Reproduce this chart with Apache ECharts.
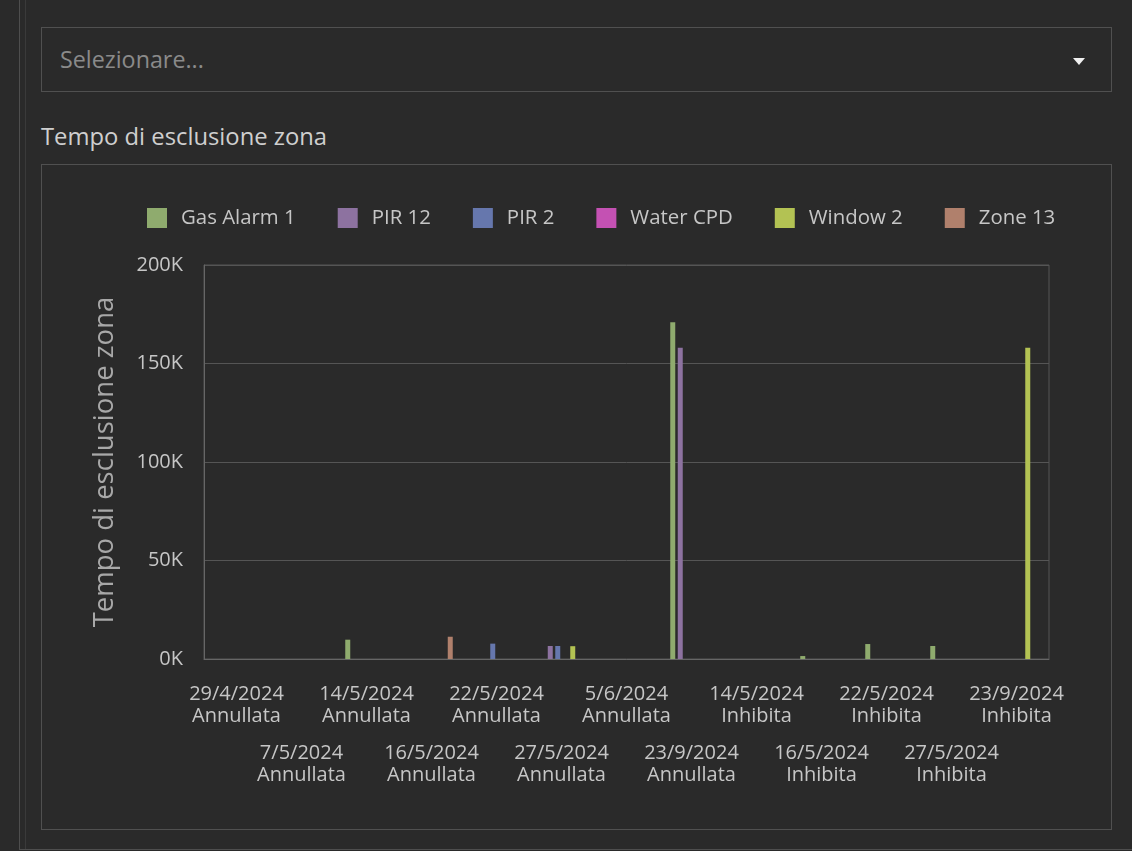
<!DOCTYPE html>
<html>
<head>
<meta charset="utf-8">
<script src="https://cdn.jsdelivr.net/npm/echarts@6/dist/echarts.min.js"></script>
<style>
  html, body { margin: 0; padding: 0; width: 1132px; height: 851px; background: #2a2a2a; overflow: hidden; font-family: 'Open Sans', sans-serif; }
  .abs { position: absolute; box-sizing: border-box; }
  #vline1 { left: 19px; top: 0; width: 1px; height: 850px; background: #4e4e4e; }
  #vline2 { left: 25px; top: 0; width: 1px; height: 850px; background: #3a3a3a; }
  #hline { left: 19px; top: 849px; width: 1113px; height: 1px; background: #4e4e4e; }
  #dropdown { left: 41px; top: 27px; width: 1071px; height: 65px; border: 1px solid #505050; background: #2a2a2a; }
  #dropdown span { position: absolute; left: 18px; top: 15px; font-size: 23.3px; color: #8a8a8a; }
  #arrow { position: absolute; left: 1031px; top: 30px; width: 0; height: 0; border-left: 6px solid transparent; border-right: 6px solid transparent; border-top: 7px solid #f0f0f0; }
  #heading { left: 41px; top: 120px; font-size: 23.8px; color: #cfcfcf; white-space: nowrap; }
  #chartbox { left: 41px; top: 164px; width: 1071px; height: 666px; border: 1px solid #505050; }
  #chart { position: absolute; left: 0; top: 0; width: 1132px; height: 851px; }
</style>
</head>
<body>
<div class="abs" id="vline1"></div>
<div class="abs" id="vline2"></div>
<div class="abs" id="hline"></div>
<div class="abs" id="dropdown"><span>Selezionare...</span><div id="arrow"></div></div>
<div class="abs" id="heading">Tempo di esclusione zona</div>
<div class="abs" id="chartbox"></div>
<div id="chart"></div>
<script>
// ---- data ----
const dates = ['29/4/2024','7/5/2024','14/5/2024','16/5/2024','22/5/2024','27/5/2024','5/6/2024','23/9/2024','14/5/2024','16/5/2024','22/5/2024','27/5/2024','23/9/2024'];
const statuses = ['Annullata','Annullata','Annullata','Annullata','Annullata','Annullata','Annullata','Annullata','Inhibita','Inhibita','Inhibita','Inhibita','Inhibita'];
const seriesNames = ['Gas Alarm 1','PIR 12','PIR 2','Water CPD','Window 2','Zone 13'];
const gasAlarm1 = [0, 0, 9800, 0, 0, 0, 0, 171000, 0, 1500, 7600, 6600, 0];
const pir12     = [0, 0, 0, 0, 0, 6600, 0, 158000, 0, 0, 0, 0, 0];
const pir2      = [0, 0, 0, 0, 7800, 6600, 0, 0, 0, 0, 0, 0, 0];
const waterCpd  = [0, 0, 0, 0, 0, 0, 0, 0, 0, 0, 0, 0, 0];
const window2   = [0, 0, 0, 0, 0, 6500, 0, 0, 0, 0, 0, 0, 158000];
const zone13    = [0, 0, 0, 11300, 0, 0, 0, 0, 0, 0, 0, 0, 0];
const yTicks = [0, 50000, 100000, 150000, 200000];
const axisName = 'Tempo di esclusione zona';

const seriesValues = [gasAlarm1, pir12, pir2, waterCpd, window2, zone13];
const colors = ['#8fab6e', '#8d72a0', '#6677ad', '#c451b3', '#b3c253', '#b0806c'];
const categories = dates.map((d, i) => d + '|' + statuses[i]);

const chart = echarts.init(document.getElementById('chart'), null, { renderer: 'canvas' });
const labelColor = '#c6c6c6';
chart.setOption({
  animation: false,
  backgroundColor: 'transparent',
  textStyle: { fontFamily: 'Open Sans' },
  color: colors,
  legend: {
    left: 147, top: 208, padding: 0,
    itemWidth: 20, itemHeight: 20, itemGap: 42,
    icon: 'rect',
    data: seriesNames,
    textStyle: { color: labelColor, fontSize: 20.4, fontFamily: 'Open Sans', padding: [0, 0, 0, 9] }
  },
  grid: { left: 204, right: 83, top: 265, bottom: 192, show: true, borderColor: '#555555', borderWidth: 1 },
  xAxis: {
    type: 'category',
    data: categories,
    boundaryGap: true,
    axisTick: { show: false },
    axisLine: { show: true, lineStyle: { color: '#666666' } },
    axisLabel: {
      interval: 0,
      margin: 24,
      formatter: function (v, idx) {
        const p = v.split('|');
        const body = '{t|' + p[0] + '}\n{t|' + p[1] + '}';
        return idx % 2 === 1 ? '{sp| }\n' + body : body;
      },
      rich: {
        t: { fontSize: 20, lineHeight: 22, color: labelColor, fontFamily: 'Open Sans', align: 'center' },
        sp: { fontSize: 20, lineHeight: 59, color: labelColor }
      }
    }
  },
  yAxis: {
    type: 'value',
    min: yTicks[0], max: yTicks[yTicks.length - 1], interval: yTicks[1] - yTicks[0],
    name: axisName,
    nameLocation: 'middle',
    nameRotate: 90,
    nameGap: 85,
    nameTextStyle: { fontSize: 27.5, color: '#a8a8a8', fontFamily: 'Open Sans' },
    axisLine: { show: true, lineStyle: { color: '#666666' } },
    axisTick: { show: false },
    splitLine: { lineStyle: { color: '#555555' } },
    axisLabel: { margin: 21, fontSize: 20, color: labelColor, fontFamily: 'Open Sans', formatter: v => (v / 1000) + 'K' }
  },
  series: seriesNames.map((n, i) => ({
    name: n, type: 'bar', data: seriesValues[i], barWidth: 5, barGap: '50%'
  }))
});
</script>
</body>
</html>
